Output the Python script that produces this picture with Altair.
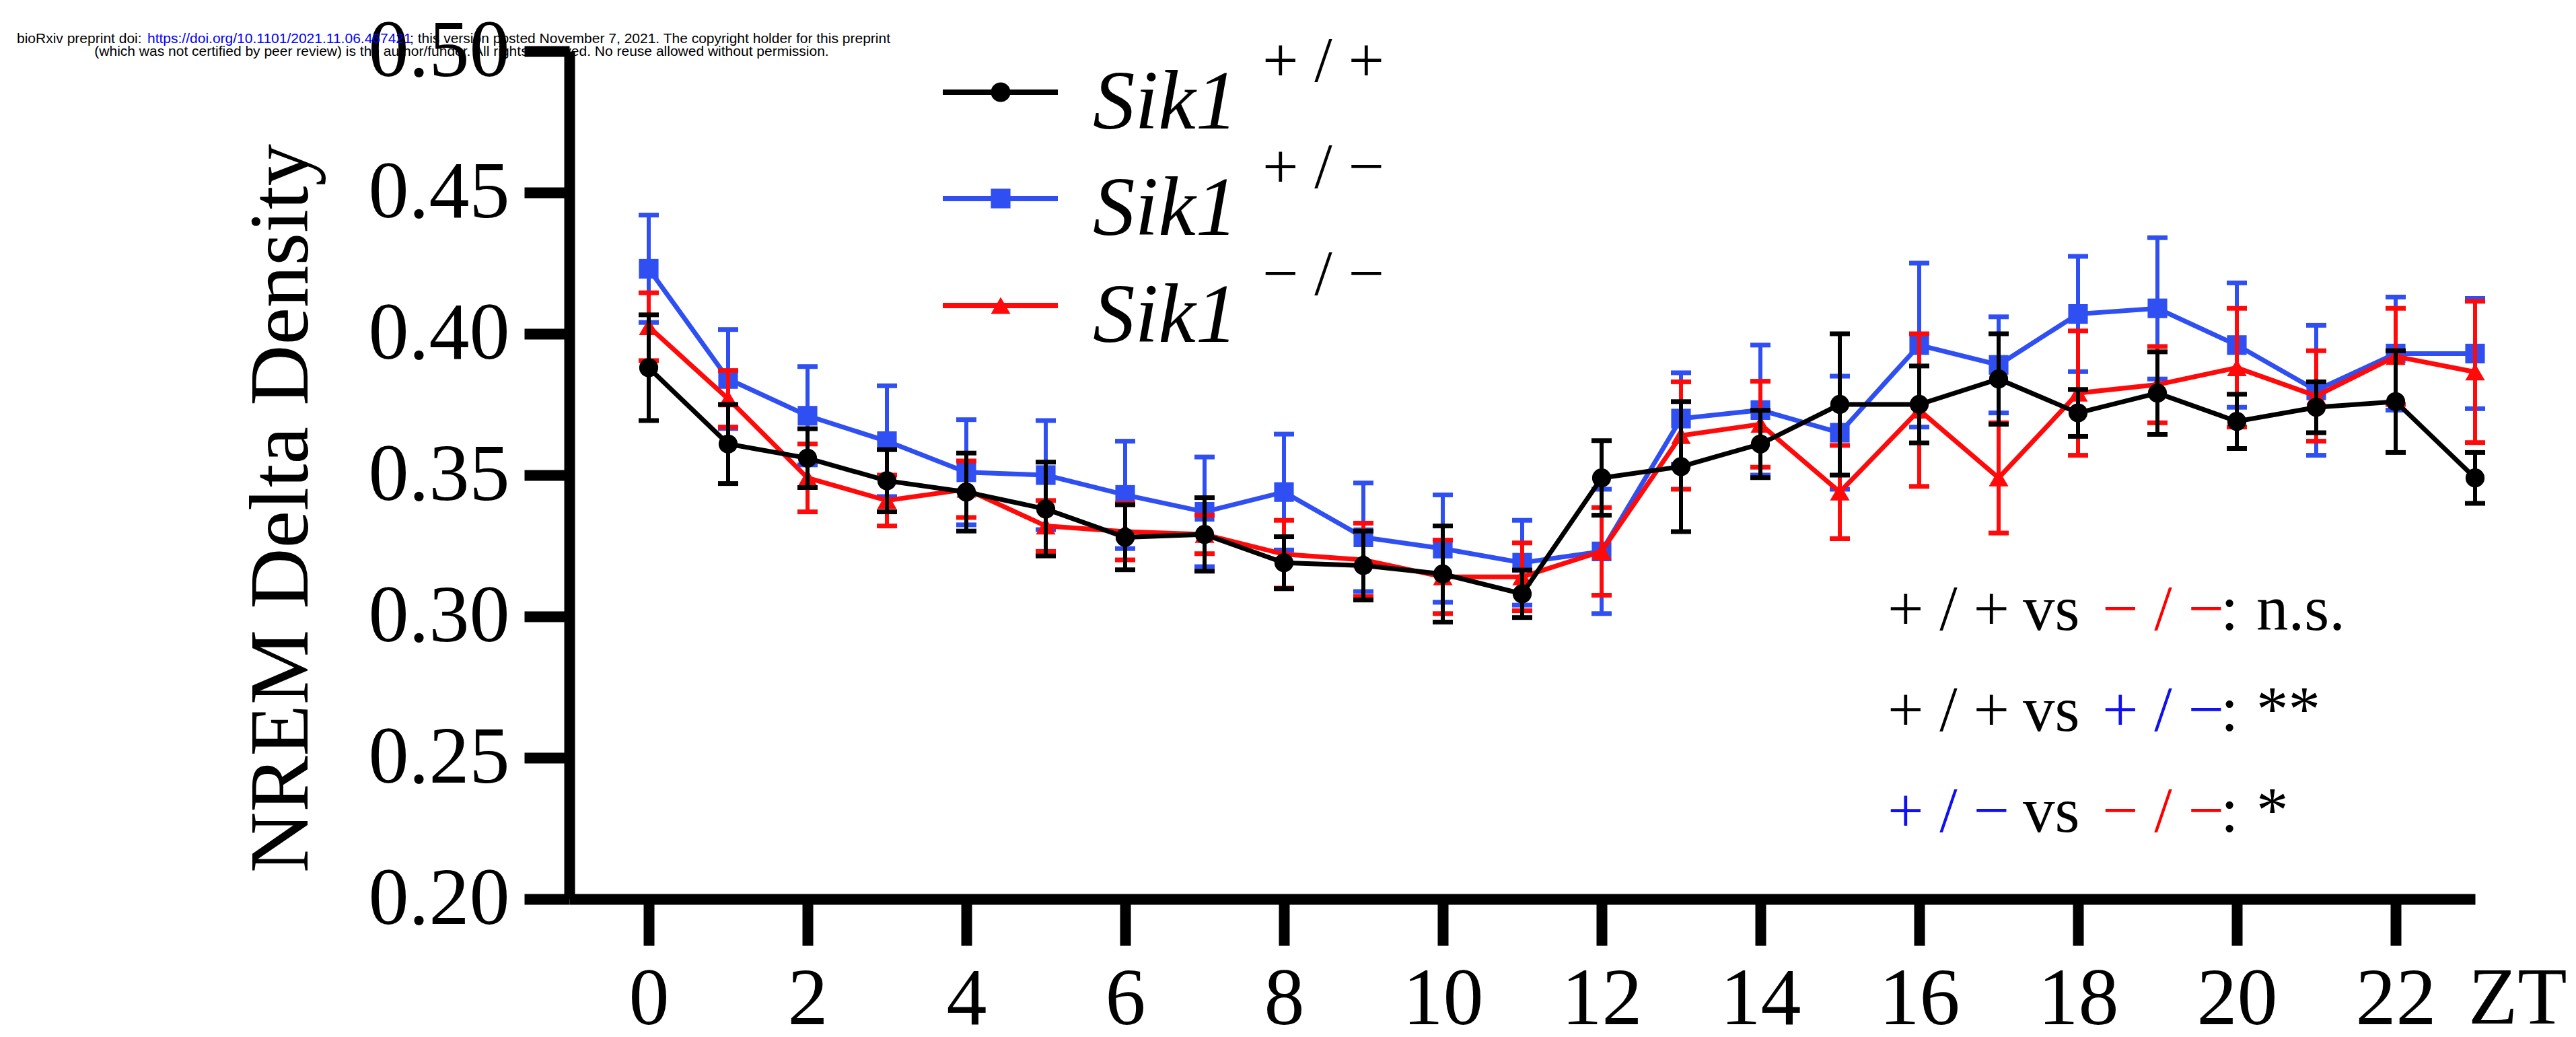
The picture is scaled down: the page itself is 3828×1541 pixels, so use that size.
import altair as alt
import pandas as pd

# ---------------- data ----------------
hours = list(range(24))

wt_mean = [0.388, 0.361, 0.356, 0.348, 0.344, 0.338, 0.328, 0.329, 0.319, 0.318, 0.315, 0.308,
           0.349, 0.353, 0.361, 0.375, 0.375, 0.384, 0.372, 0.379, 0.369, 0.374, 0.376, 0.349]
wt_sem = [0.0187, 0.014, 0.0104, 0.011, 0.0138, 0.0166, 0.0115, 0.013, 0.0092, 0.0122, 0.017, 0.0084,
          0.0132, 0.023, 0.0119, 0.025, 0.0136, 0.016, 0.0083, 0.0146, 0.0096, 0.009, 0.018, 0.009]

het_mean = [0.423, 0.384, 0.371, 0.362, 0.351, 0.350, 0.343, 0.337, 0.344, 0.328, 0.324, 0.319,
            0.323, 0.370, 0.373, 0.365, 0.396, 0.389, 0.407, 0.409, 0.396, 0.380, 0.393, 0.393]
het_sem = [0.019, 0.0175, 0.0174, 0.0196, 0.0186, 0.0193, 0.019, 0.0194, 0.0205, 0.0192, 0.019, 0.015,
           0.022, 0.0162, 0.023, 0.020, 0.029, 0.017, 0.0204, 0.025, 0.022, 0.023, 0.020, 0.0195]

ko_mean = [0.4025, 0.377, 0.349, 0.341, 0.345, 0.332, 0.330, 0.329, 0.322, 0.320, 0.314, 0.314,
           0.323, 0.364, 0.368, 0.344, 0.373, 0.349, 0.379, 0.382, 0.388, 0.378, 0.392, 0.3865]
ko_sem = [0.012, 0.010, 0.012, 0.009, 0.010, 0.009, 0.010, 0.0068, 0.012, 0.013, 0.013, 0.012,
          0.0155, 0.019, 0.0152, 0.0165, 0.027, 0.0195, 0.022, 0.0135, 0.021, 0.016, 0.017, 0.025]

x_tick_values = [0, 2, 4, 6, 8, 10, 12, 14, 16, 18, 20, 22]
y_tick_values = [0.20, 0.25, 0.30, 0.35, 0.40, 0.45, 0.50]

legend_name = "Sik1"
legend_sups = ["+ / +", "+ / \u2212", "\u2212 / \u2212"]

header_line1 = ["bioRxiv preprint doi: ",
                "https://doi.org/10.1101/2021.11.06.467421",
                "; this version posted November 7, 2021. The copyright holder for this preprint"]
header_line2 = "(which was not certified by peer review) is the author/funder. All rights reserved. No reuse allowed without permission."

# ---------------- style ----------------
SERIF = "Liberation Serif"
SANS = "Liberation Sans"
BLACK = "#000000"
BLUE = "#2F4FF2"
RED = "#FF0A0A"
TXT_BLUE = "#1010F0"
TXT_RED = "#FF0000"

W, H = 2832, 1260
PAD = {"left": 846, "top": 76, "right": 3828 - 846 - W, "bottom": 1541 - 76 - H}

x_scale = alt.Scale(domain=[-1, 23], nice=False, zero=False)
y_scale = alt.Scale(domain=[0.20, 0.50], nice=False, zero=False)

x_axis = alt.Axis(values=x_tick_values, title=None, grid=False, labelFont=SERIF, labelFontSize=120,
                  labelColor=BLACK, labelPadding=21, labelLimit=0, tickSize=69, tickWidth=16,
                  tickColor=BLACK, domainWidth=16, domainColor=BLACK, labelFlush=False,
                  labelOverlap=False)
y_axis = alt.Axis(values=y_tick_values, format=".2f", title="NREM Delta Density", grid=False,
                  labelFont=SERIF, labelFontSize=120, labelColor=BLACK, labelPadding=22,
                  labelLimit=0, tickSize=67, tickWidth=16, tickColor=BLACK, domainWidth=16,
                  domainColor=BLACK, labelFlush=False, labelOverlap=False,
                  titleFont=SERIF, titleFontSize=125, titleFontWeight="normal", titleColor=BLACK,
                  titleAngle=270, titleBaseline="alphabetic", titleAlign="center",
                  titleX=-390, titleY=679, titleLimit=0)


def frame(mean, sem):
    return pd.DataFrame({
        "hour": hours,
        "mean": mean,
        "lo": [m - s for m, s in zip(mean, sem)],
        "hi": [m + s for m, s in zip(mean, sem)],
    })


def X():
    return alt.X("hour:Q", scale=x_scale, axis=x_axis)


def Y(field):
    return alt.Y(field + ":Q", scale=y_scale, axis=y_axis)


def series_layers(df, color, shape, size):
    base = alt.Chart(df)
    rule = base.mark_rule(color=color, strokeWidth=6, opacity=1).encode(x=X(), y=Y("lo"), y2="hi:Q")
    cap_lo = base.mark_tick(color=color, orient="horizontal", size=30, thickness=7, opacity=1).encode(
        x=X(), y=Y("lo"))
    cap_hi = base.mark_tick(color=color, orient="horizontal", size=30, thickness=7, opacity=1).encode(
        x=X(), y=Y("hi"))
    line = base.mark_line(color=color, strokeWidth=7, opacity=1).encode(x=X(), y=Y("mean"))
    pts = base.mark_point(color=color, filled=True, opacity=1, shape=shape, size=size).encode(
        x=X(), y=Y("mean"))
    return [rule, cap_lo, cap_hi, line, pts]


one = pd.DataFrame({"k": [0]})


def txt(text, x, y, size, color=BLACK, font=SERIF, align="left", style="normal"):
    return alt.Chart(one).mark_text(text=text, font=font, fontSize=size, color=color, align=align,
                                    baseline="alphabetic", fontStyle=style).encode(
        x=alt.value(x), y=alt.value(y))


layers = []
layers += series_layers(frame(het_mean, het_sem), BLUE, "square", 850)
layers += series_layers(frame(ko_mean, ko_sem), RED, "triangle-up", 850)
layers += series_layers(frame(wt_mean, wt_sem), BLACK, "circle", 800)

# legend (custom, line + marker + italic name + superscript genotype)
leg_colors = [BLACK, BLUE, RED]
leg_shapes = ["circle", "square", "triangle-up"]
leg_rows_y = [61, 219, 378]
for i in range(3):
    yc = leg_rows_y[i]
    layers.append(alt.Chart(one).mark_rule(color=leg_colors[i], strokeWidth=8).encode(
        x=alt.value(555), x2=alt.value(726), y=alt.value(yc)))
    layers.append(alt.Chart(one).mark_point(color=leg_colors[i], filled=True, opacity=1,
                                            shape=leg_shapes[i], size=850).encode(
        x=alt.value(641), y=alt.value(yc)))
    layers.append(txt(legend_name, 778, yc + 54, 125, style="italic"))
    layers.append(txt(legend_sups[i], 1030, yc - 16, 95))

# statistics annotation
rows = [
    [("+ / +", BLACK), ("\u2212 / \u2212", TXT_RED), ("n.s.", BLACK)],
    [("+ / +", BLACK), ("+ / \u2212", TXT_BLUE), ("**", BLACK)],
    [("+ / \u2212", TXT_BLUE), ("\u2212 / \u2212", TXT_RED), ("*", BLACK)],
]
row_base = [860, 1010, 1160]
for r, row in enumerate(rows):
    yb = row_base[r]
    layers.append(txt(row[0][0], 1959, yb, 95, color=row[0][1]))
    layers.append(txt("vs", 2160, yb, 95))
    layers.append(txt(row[1][0], 2278, yb, 95, color=row[1][1]))
    layers.append(txt(":", 2454, yb, 95))
    layers.append(txt(row[2][0], 2507, yb, 95, color=row[2][1]))

# axis unit label
layers.append(txt("ZT", 2822, 1445, 120))

# preprint header
layers.append(txt(header_line1[0], -821, -12, 21, font=SANS))
layers.append(txt(header_line1[1], -627, -12, 21, color="#0000FF", font=SANS))
layers.append(txt(header_line1[2], -237, -12, 21, font=SANS))
layers.append(txt(header_line2, -160, 7, 21, font=SANS, align="center"))

chart = alt.layer(*layers).properties(
    width=W, height=H, padding=PAD,
    autosize=alt.AutoSizeParams(type="none"),
    background="white",
).configure_view(stroke=None)

chart.save("out.html", embed_options={"renderer": "svg", "actions": False})
